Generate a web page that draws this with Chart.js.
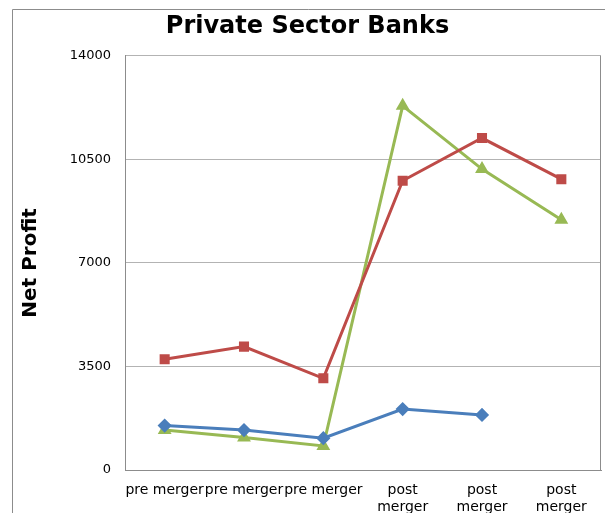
<!DOCTYPE html>
<html>
<head>
<meta charset="utf-8">
<script src="https://cdn.jsdelivr.net/npm/chart.js@4.4.1/dist/chart.umd.min.js"></script>
<style>
html,body{margin:0;padding:0;background:#fff;}
#wrap{width:605px;height:513px;position:relative;}
</style>
</head>
<body>
<div id="wrap"><canvas id="c" width="605" height="513"></canvas></div>
<script>
const categories = ["pre merger", "pre merger", "pre merger", ["post", "merger"], ["post", "merger"], ["post", "merger"]];
const seriesBlue = [1500, 1350, 1075, 2060, 1860, null];
const seriesRed = [3745, 4170, 3100, 9775, 11220, 9830];
const seriesGreen = [1350, 1095, 815, 12310, 10170, 8455];
const yTicks = [0, 3500, 7000, 10500, 14000];

const frame = {
  id: 'frame',
  beforeDraw(chart) {
    const ctx = chart.ctx;
    ctx.save();
    ctx.fillStyle = '#fff';
    ctx.fillRect(0, 0, chart.width, chart.height);
    ctx.strokeStyle = '#8c8c8c';
    ctx.lineWidth = 1;
    ctx.beginPath();
    ctx.moveTo(12.5, 513);
    ctx.lineTo(12.5, 9.5);
    ctx.lineTo(605, 9.5);
    ctx.stroke();
    ctx.restore();
  }
};

new Chart(document.getElementById('c'), {
  type: 'line',
  data: {
    labels: categories,
    datasets: [
      { data: seriesBlue, borderColor: '#4A7EBB', backgroundColor: '#4A7EBB', borderWidth: 3, pointStyle: 'rectRot', pointRadius: 5, pointHoverRadius: 5, tension: 0 },
      { data: seriesRed, borderColor: '#BE4B48', backgroundColor: '#BE4B48', borderWidth: 3, pointStyle: 'rect', pointRadius: 5, pointHoverRadius: 5, tension: 0 },
      { data: seriesGreen, borderColor: '#98B954', backgroundColor: '#98B954', borderWidth: 3, pointStyle: 'triangle', pointRadius: 5, pointHoverRadius: 5, tension: 0 }
    ]
  },
  options: {
    responsive: false,
    animation: false,
    layout: { autoPadding: false, padding: { left: 14, right: 4, top: 0, bottom: 0 } },
    plugins: {
      legend: { display: false },
      tooltip: { enabled: false },
      title: {
        display: true,
        text: 'Private Sector Banks',
        color: '#000',
        font: { family: 'DejaVu Sans', size: 24, weight: 'bold' },
        padding: { top: 12, bottom: 15 }
      }
    },
    scales: {
      x: {
        offset: true,
        grid: { display: false, drawTicks: false },
        border: { display: true, color: '#8c8c8c', width: 1 },
        ticks: { color: '#000', font: { family: 'DejaVu Sans', size: 14 }, padding: 12, maxRotation: 0, autoSkip: false },
        afterFit(s) { s.height = 43; }
      },
      y: {
        min: 0, max: 14000,
        afterBuildTicks(s) { s.ticks = yTicks.map(v => ({ value: v })); },
        grid: { color: '#b3b3b3', drawTicks: false, lineWidth: 1 },
        border: { display: true, color: '#8c8c8c', width: 1 },
        ticks: { color: '#000', font: { family: 'DejaVu Sans', size: 13 }, padding: 14, callback: v => String(v) },
        title: { display: true, text: 'Net Profit', color: '#000', font: { family: 'DejaVu Sans', size: 20, weight: 'bold' }, padding: { top: 5, bottom: 0 } },
        afterFit(s) { s.width = 111; }
      }
    }
  },
  plugins: [frame, {
    id: 'rightBorder',
    afterDraw(chart) {
      const a = chart.chartArea, ctx = chart.ctx;
      ctx.save();
      ctx.strokeStyle = '#8c8c8c';
      ctx.lineWidth = 1;
      ctx.beginPath();
      ctx.moveTo(Math.round(a.right) - 0.5, a.top);
      ctx.lineTo(Math.round(a.right) - 0.5, a.bottom);
      ctx.stroke();
      ctx.restore();
    }
  }]
});
</script>
</body>
</html>
